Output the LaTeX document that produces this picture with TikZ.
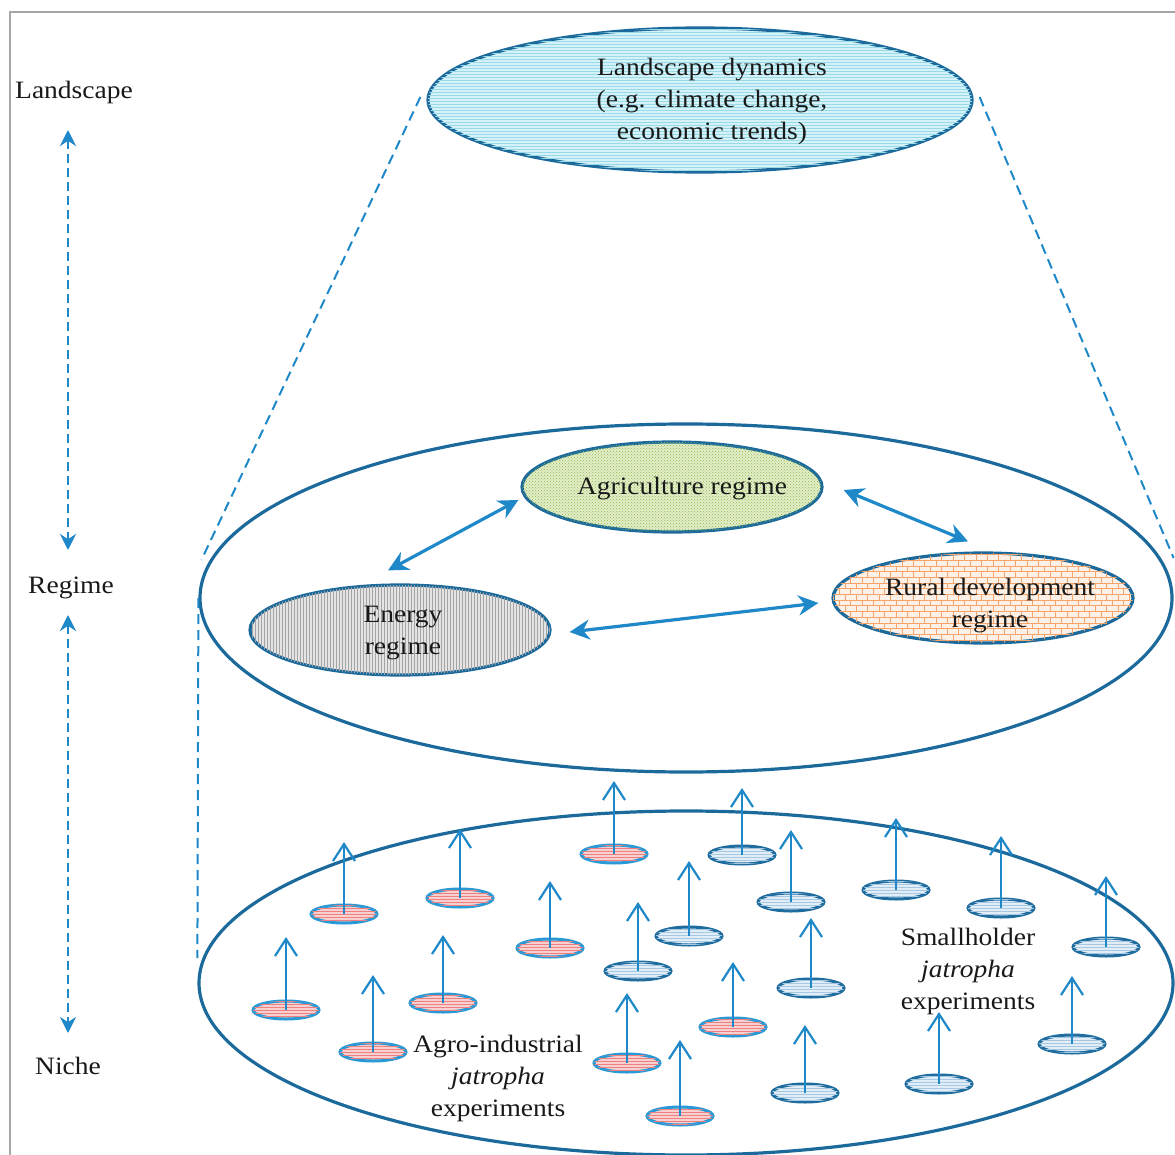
\documentclass[tikz,border=0pt]{standalone}
\usepackage{fontspec}
\setmainfont[FakeStretch=1.1]{Liberation Serif}
\usetikzlibrary{patterns,arrows.meta,shapes.geometric}
\definecolor{edge}{HTML}{1C6A9C}
\definecolor{arr}{HTML}{1E88C8}
\definecolor{redge}{HTML}{2A9AD6}
\definecolor{bedge}{HTML}{1F6C9E}
\definecolor{landfill}{HTML}{D4F2F8}
\definecolor{landpat}{HTML}{98DAE8}
\definecolor{agrfill}{HTML}{E4EDC8}
\definecolor{agrpat}{HTML}{8CBA50}
\definecolor{enfill}{HTML}{E4E4E4}
\definecolor{enpat}{HTML}{A4A4A4}
\definecolor{rurfill}{HTML}{FDF0E6}
\definecolor{rurpat}{HTML}{F5A56A}
\definecolor{redfill}{HTML}{F8D0D0}
\definecolor{redpat}{HTML}{EE8080}
\definecolor{bluefill}{HTML}{E2EEF7}
\definecolor{bluepat}{HTML}{A6C8E2}
\begin{document}
\begin{tikzpicture}[x=1pt,y=-1pt,
  bigell/.style={ellipse, draw=edge, line width=3.2pt, inner sep=0pt},
  regell/.style={ellipse, draw=edge, line width=3.2pt, inner sep=0pt, minimum width=300pt, minimum height=90pt},
  txt/.style={font=\fontsize{25}{32}\selectfont, align=center, inner sep=0pt, text=black!90},
  redell/.style={ellipse, draw=redge, line width=3pt, fill=redfill, inner sep=0pt, minimum width=66pt, minimum height=18pt, postaction={pattern=horizontal lines, pattern color=redpat}},
  blueell/.style={ellipse, draw=bedge, line width=3pt, fill=bluefill, inner sep=0pt, minimum width=66pt, minimum height=18pt, postaction={pattern=horizontal lines, pattern color=bluepat}},
  uparr/.style={draw=arr, line width=2.2pt, -{Straight Barb[length=17pt,width=22pt]}},
  dbl/.style={draw=arr, line width=3.2pt, {Stealth[length=20pt,width=20pt]}-{Stealth[length=20pt,width=20pt]}},
  axisarr/.style={draw=arr, line width=2.4pt, dash pattern=on 9pt off 5pt, {Stealth[length=16pt,width=16pt]}-{Stealth[length=16pt,width=16pt]}},
  guide/.style={draw=arr, line width=2pt, dash pattern=on 10pt off 6pt}
]
\useasboundingbox (0,0) rectangle (1175,1155);
\draw[black!35, line width=1.5pt] (10,1155) -- (10,12) -- (1175,12);

% left axis
\node[txt] (llabel) at (74,92) {Landscape};
\node[txt] (rlabel) at (71,588) {Regime};
\node[txt] (nlabel) at (68,1066) {Niche};
\coordinate (a1) at (68,130);
\coordinate (a2) at (68,550);
\coordinate (a3) at (68,615);
\coordinate (a4) at (68,1033);
\draw[axisarr] (a1) -- (a2);
\draw[axisarr] (a3) -- (a4);

% big ellipses
\node[bigell, fill=landfill, minimum width=544pt, minimum height=144pt, postaction={pattern=horizontal lines, pattern color=landpat}] (land) at (700,100) {};
\node[txt] (landtxt) at (712,101) {Landscape dynamics\\(e.g. climate change,\\economic trends)};
\node[bigell, minimum width=972pt, minimum height=348pt] (regime) at (686,598) {};
\node[bigell, minimum width=974pt, minimum height=344pt] (niche) at (686,983) {};

% guide lines
\draw[guide] ([xshift=-6pt,yshift=3pt]land.west) -- ([xshift=3pt,yshift=38pt]regime.west);
\draw[guide] ([xshift=6pt,yshift=3pt]land.east) -- ([xshift=0pt,yshift=40pt]regime.east);
\draw[guide] (regime.west) -- ([yshift=25pt]niche.west);

% regimes
\node[regell, fill=agrfill, postaction={pattern=crosshatch dots, pattern color=agrpat}] (agr) at (672,487) {};
\node[regell, fill=enfill, postaction={pattern=vertical lines, pattern color=enpat}] (energy) at (400,630) {};
\node[regell, fill=rurfill, postaction={pattern=bricks, pattern color=rurpat}] (rural) at (983,598) {};
\node[txt] (agrtxt) at (682,489) {Agriculture regime};
\node[txt] (entxt) at (403,633) {Energy\\regime};
\node[txt] (rurtxt) at (990,606) {Rural development\\regime};

\draw[dbl] ([xshift=-12pt,yshift=13pt]energy.north) -- ([xshift=-2pt,yshift=-13pt]agr.west);
\draw[dbl] ([xshift=20pt,yshift=-3pt]agr.east) -- ([xshift=-15pt,yshift=10pt]rural.north);
\draw[dbl] ([xshift=18pt,yshift=-2pt]energy.east) -- ([xshift=-13pt,yshift=-5pt]rural.west);

% niches
\foreach \x/\y/\t [count=\i] in {344/914/842, 460/898/829, 286/1010/937, 373/1052/975, 443/1003/935, 550/948/881, 614/854/781, 627/1063/993, 733/1027/962, 680/1116/1040}{
  \node[redell] (r\i) at (\x,\y) {};
  \draw[uparr] (r\i.center) -- (\x,\t);
}
\foreach \x/\y/\t [count=\i] in {742/855/788, 638/971/902, 689/936/861, 791/902/830, 811/988/918, 896/890/818, 1001/908/836, 1106/947/876, 1072/1044/976, 939/1084/1012, 805/1093/1025}{
  \node[blueell] (b\i) at (\x,\y) {};
  \draw[uparr] (b\i.center) -- (\x,\t);
}
\node[txt] (agro) at (498,1078) {Agro-industrial\\\textit{jatropha}\\experiments};
\node[txt] (small) at (968,971) {Smallholder\\\textit{jatropha}\\experiments};
\end{tikzpicture}
\end{document}
